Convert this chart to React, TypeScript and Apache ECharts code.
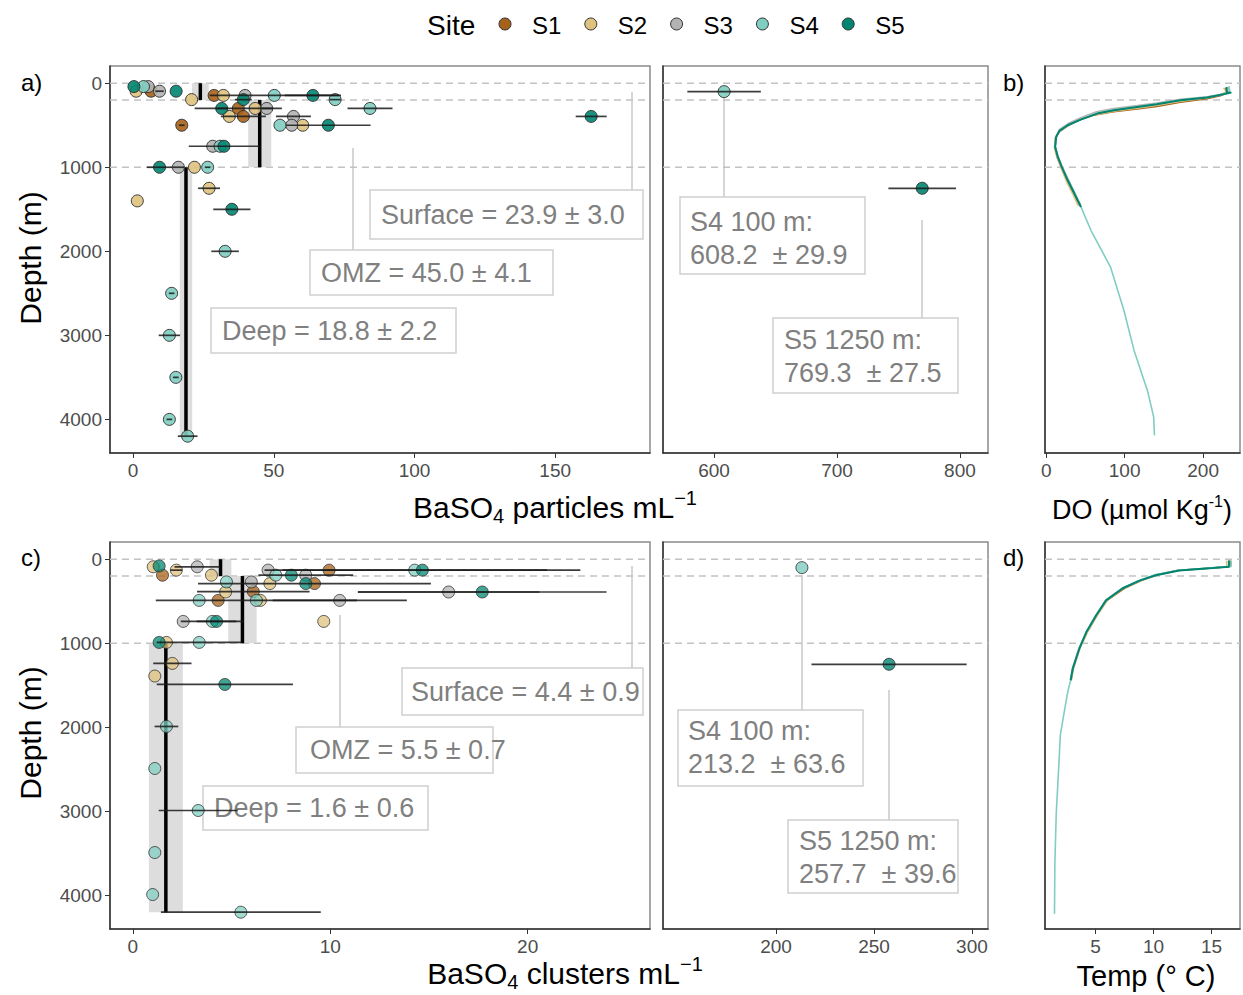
import React, { useEffect, useRef } from "react";
import * as echarts from "echarts";

const FONT = '"Liberation Sans", Arial, Helvetica, sans-serif';

const SITES = ["S1", "S2", "S3", "S4", "S5"];
const SITE_COLORS = ["#A6611A", "#DFC27D", "#B3B3B3", "#80CDC1", "#018571"];

const DEPTH_TICKS = [0, 1000, 2000, 3000, 4000];
const REF_DEPTHS = [0, 200, 1000];
const DEPTH_MIN = -205;
const DEPTH_MAX = 4400;

// ---- a) BaSO4 particles mL-1 (site number, value, depth, half error)
const partSite = [5, 3, 4, 2, 1, 3, 5, 2, 1, 2, 3, 4, 5, 4, 5, 5, 1, 2, 3, 4, 2, 1, 3, 5, 1, 4, 3, 2, 5, 3, 4, 5, 5, 3, 2, 4, 2, 2, 5, 4, 4, 4, 4, 4, 4];
const partValue = [0.3, 5.4, 3.7, 1.1, 6.4, 9.4, 15.3, 20.8, 28.8, 32.1, 39.8, 50.2, 63.9, 71.8, 39.2, 31.5, 37.4, 43.4, 47.5, 84.2, 34.2, 39.2, 57.0, 162.8, 17.3, 52.2, 56.4, 60.3, 69.4, 28.3, 30.9, 32.3, 9.4, 16.1, 21.8, 26.5, 27.0, 1.5, 35.1, 32.7, 13.7, 12.9, 15.2, 12.9, 19.4];
const partDepth = [40, 40, 40, 95, 95, 95, 95, 195, 145, 145, 145, 145, 145, 195, 195, 300, 300, 300, 300, 300, 395, 395, 395, 395, 500, 500, 500, 500, 500, 750, 750, 750, 1000, 1000, 1000, 1000, 1250, 1400, 1500, 2000, 2500, 3000, 3500, 4000, 4200];
const partErr = [0, 0, 0, 0, 0, 1.5, 0, 0, 0, 0, 0, 23, 10, 2, 3, 2, 15.5, 0, 2, 8, 0, 8, 6.2, 5.5, 1, 0, 0, 0, 15, 0, 0, 12.5, 4.5, 2, 0, 1, 3.9, 0, 6.6, 4.9, 1, 3.8, 1, 1, 3.5];

// a) broken-axis panel: high values
const partHighSite = [4, 5];
const partHighValue = [608.2, 769.3];
const partHighDepth = [100, 1250];
const partHighErr = [29.9, 27.5];

// a) layer means
const partMean = [23.9, 45.0, 18.8];
const partMeanHalf = [3.0, 4.1, 2.2];
const layerTop = [0, 200, 1000];
const layerBottom = [200, 1000, 4200];

// ---- c) BaSO4 clusters mL-1
const clusSite = [2, 5, 1, 2, 3, 2, 3, 4, 5, 4, 5, 3, 1, 4, 3, 2, 5, 1, 2, 1, 3, 5, 4, 1, 4, 2, 3, 3, 4, 5, 2, 5, 2, 4, 2, 2, 5, 4, 4, 4, 4, 4, 4];
const clusValue = [1.03, 1.33, 1.5, 2.2, 3.26, 3.98, 6.85, 14.28, 14.67, 7.24, 8.03, 8.76, 9.94, 4.74, 6.0, 6.94, 8.76, 9.2, 4.7, 6.1, 16.0, 17.7, 3.36, 4.32, 6.26, 6.46, 10.48, 2.55, 4.03, 4.24, 9.67, 1.33, 1.7, 3.36, 2.0, 1.11, 4.66, 1.7, 1.11, 3.31, 1.11, 1.0, 5.47];
const clusDepth = [90, 80, 190, 130, 90, 190, 130, 130, 130, 190, 190, 190, 130, 270, 270, 290, 290, 290, 390, 385, 390, 390, 490, 490, 490, 490, 490, 740, 740, 740, 740, 990, 990, 990, 1240, 1390, 1490, 1990, 2490, 2990, 3490, 3990, 4200];
const clusErr = [0, 0, 0, 0.3, 1.15, 0, 0, 6.7, 8.0, 0, 0, 2.4, 0, 0, 0, 0, 0, 5.9, 0, 2.85, 4.6, 6.3, 0, 0, 5.1, 0, 3.4, 0, 1.6, 1.0, 0, 0, 0, 2.15, 0.97, 0, 3.45, 0.6, 0, 2.0, 0, 0, 4.05];

const clusHighSite = [4, 5];
const clusHighValue = [213.2, 257.7];
const clusHighDepth = [100, 1250];
const clusHighErr = [0, 39.6];

const clusMean = [4.44, 5.55, 1.67];
const clusMeanHalf = [0.55, 0.72, 0.86];

// ---- b) dissolved oxygen profiles (µmol/kg)
const doS1Depth = [60, 110, 150, 185, 225, 275, 305, 340, 380, 440, 510, 575, 645, 760, 880, 1000, 1160, 1310, 1440];
const doS1 = [228, 232, 222, 205, 171, 141, 116, 86, 60, 40, 27, 17, 12, 11, 14, 19.5, 27, 35, 42];
const doS2Depth = [55, 105, 140, 175, 215, 262, 295, 330, 375, 440, 510, 580, 650, 770, 890, 1010, 1170, 1320, 1460];
const doS2 = [226, 230, 220, 204, 172, 142, 118, 88, 62, 41, 26, 16, 11.5, 10.5, 14, 19, 26, 34, 41];
const doS3Depth = [50, 105, 135, 160, 190, 235, 265, 300, 340, 410, 480, 550, 625, 745, 865, 985, 1140, 1300, 1450];
const doS3 = [232, 234, 222, 205, 171, 141, 116, 86, 64, 44, 28, 17, 13, 11.5, 15, 20, 28, 36, 44];
const doS4Depth = [35, 105, 140, 168, 198, 245, 276, 315, 355, 428, 495, 562, 635, 755, 875, 995, 1150, 1310, 1472, 1750, 2187, 2702, 3179, 3655, 3972, 4190];
const doS4 = [233, 234, 222, 206, 172, 142, 117, 87, 66, 45, 28, 17.5, 13, 11.5, 15, 20, 28, 36.5, 44.3, 57, 82, 99, 112, 129, 137, 138];
const doS5Depth = [45, 110, 112, 171, 202, 250, 282, 321, 361, 433, 500, 567, 639, 758, 877, 996, 1155, 1313, 1472];
const doS5 = [230, 230, 236, 205, 171, 141, 116, 86.5, 65, 44, 27.4, 16.9, 12.7, 11.4, 14.8, 19.8, 27.4, 35.9, 44.3];

// ---- d) temperature profiles (°C)
const tDepthShort = [15, 90, 105, 135, 190, 255, 345, 490, 670, 870, 1065, 1300, 1440];
const tS1 = [16.6, 16.6, 15.0, 12.0, 10.1, 8.9, 7.5, 6.0, 5.1, 4.25, 3.6, 3.05, 2.9];
const tS2 = [16.3, 16.3, 15.0, 12.1, 10.3, 8.9, 7.4, 6.0, 5.15, 4.3, 3.65, 3.1, 2.9];
const tS3 = [16.5, 16.5, 15.1, 12.2, 10.2, 8.8, 7.3, 5.9, 5.0, 4.2, 3.55, 3.0, 2.85];
const tS5 = [16.5, 16.5, 15.1, 12.2, 10.2, 8.8, 7.35, 5.9, 5.05, 4.2, 3.6, 3.04, 2.85];
const tS4Depth = [15, 85, 103, 131, 183, 250, 341, 488, 667, 865, 1063, 1302, 1440, 1580, 1897, 2095, 2432, 3027, 3623, 4218];
const tS4 = [16.7, 16.7, 15.1, 12.2, 10.2, 8.8, 7.35, 5.9, 5.05, 4.2, 3.6, 3.04, 2.85, 2.6, 2.2, 1.96, 1.84, 1.61, 1.49, 1.46];

// ---- axes
const xTicks = [[0, 50, 100, 150], [600, 700, 800], [0, 100, 200], [0, 10, 20], [200, 250, 300], [5, 10, 15]];
const xMin = [-8.2, 558.5, -1.5, -1.16, 142.3, 0.64];
const xMax = [183.7, 822.8, 247, 26.2, 308.2, 17.46];

const GRID_BOXES = [
  { left: 110, top: 66, width: 540, height: 387 },
  { left: 663, top: 66, width: 325, height: 387 },
  { left: 1045, top: 66, width: 195, height: 387 },
  { left: 110, top: 542, width: 540, height: 387 },
  { left: 663, top: 542, width: 325, height: 387 },
  { left: 1045, top: 542, width: 195, height: 387 },
];

function refLineSeries(g: number) {
  return {
    type: "custom",
    xAxisIndex: g,
    yAxisIndex: g,
    z: 1,
    silent: true,
    data: REF_DEPTHS.map((d) => [xMin[g], d]),
    encode: { x: 0, y: 1 },
    renderItem: (params: any, api: any) => {
      const cs = params.coordSys;
      const p = api.coord([api.value(0), api.value(1)]);
      return {
        type: "line",
        shape: { x1: cs.x, y1: p[1], x2: cs.x + cs.width, y2: p[1] },
        style: { stroke: "#c2c2c2", lineWidth: 1.5, lineDash: [7, 5] },
      };
    },
  };
}

function meanSeries(g: number, means: number[], halves: number[]) {
  const data = means.map((m, i) => [m, layerTop[i], layerBottom[i], halves[i]]);
  return [
    {
      type: "custom",
      xAxisIndex: g,
      yAxisIndex: g,
      z: 1,
      silent: true,
      data,
      encode: { x: 0, y: [1, 2] },
      renderItem: (params: any, api: any) => {
        const m = api.value(0);
        const h = api.value(3);
        const p1 = api.coord([m - h, api.value(1)]);
        const p2 = api.coord([m + h, api.value(2)]);
        return {
          type: "rect",
          shape: { x: p1[0], y: p1[1], width: p2[0] - p1[0], height: p2[1] - p1[1] },
          style: { fill: "#d4d4d4", opacity: 0.8 },
        };
      },
    },
    {
      type: "custom",
      xAxisIndex: g,
      yAxisIndex: g,
      z: 2,
      silent: true,
      data,
      encode: { x: 0, y: [1, 2] },
      renderItem: (params: any, api: any) => {
        const m = api.value(0);
        const p1 = api.coord([m, api.value(1)]);
        const p2 = api.coord([m, api.value(2)]);
        return {
          type: "line",
          shape: { x1: p1[0], y1: p1[1], x2: p2[0], y2: p2[1] },
          style: { stroke: "#000", lineWidth: 3.5 },
        };
      },
    },
  ];
}

function pointSeries(g: number, sites: number[], vals: number[], depths: number[], opacity: number) {
  return SITES.map((name, si) => ({
    type: "scatter",
    name,
    xAxisIndex: g,
    yAxisIndex: g,
    z: 3,
    symbol: "circle",
    symbolSize: 12,
    data: vals.map((v, i) => (sites[i] === si + 1 ? [v, depths[i]] : null)).filter((d) => d !== null),
    itemStyle: { color: SITE_COLORS[si], borderColor: "#2b2b2b", borderWidth: 1, opacity },
    emphasis: { disabled: true },
  }));
}

function errSeries(g: number, vals: number[], depths: number[], errs: number[]) {
  const data = vals
    .map((v, i) => [v - errs[i], v + errs[i], depths[i], errs[i]])
    .filter((d) => d[3] > 0);
  return {
    type: "custom",
    xAxisIndex: g,
    yAxisIndex: g,
    z: 4,
    silent: true,
    data,
    encode: { x: [0, 1], y: 2 },
    renderItem: (params: any, api: any) => {
      const cs = params.coordSys;
      const lo = api.coord([api.value(0), api.value(2)]);
      const hi = api.coord([api.value(1), api.value(2)]);
      const x1 = Math.max(cs.x, lo[0]);
      const x2 = Math.min(cs.x + cs.width, hi[0]);
      return {
        type: "line",
        shape: { x1, y1: lo[1], x2, y2: lo[1] },
        style: { stroke: "#1a1a1a", lineWidth: 1.7, opacity: 0.85 },
      };
    },
  };
}

function profileSeries(g: number, si: number, xs: number[], ds: number[], width: number) {
  return {
    type: "line",
    name: SITES[si],
    xAxisIndex: g,
    yAxisIndex: g,
    z: 3,
    symbol: "none",
    showSymbol: false,
    silent: true,
    clip: true,
    data: xs.map((x, i) => [x, ds[i]]),
    lineStyle: { color: SITE_COLORS[si], width },
    itemStyle: { color: SITE_COLORS[si] },
  };
}

function textEl(text: string, x: number, y: number, size: number, color: string, extra: any = {}) {
  return {
    type: "text",
    x,
    y,
    z: 0,
    style: { text, fill: color, fontSize: size, fontFamily: FONT, align: "left", verticalAlign: "middle", ...extra },
  };
}

function boxEl(x: number, y: number, w: number, h: number) {
  return {
    type: "rect",
    z: 0,
    shape: { x, y, width: w, height: h },
    style: { fill: "#ffffff", stroke: "#cfcfcf", lineWidth: 1.5 },
  };
}

function connEl(x: number, y1: number, y2: number) {
  return {
    type: "line",
    z: 0,
    shape: { x1: x, y1, x2: x, y2 },
    style: { stroke: "#c8c8c8", lineWidth: 1.5 },
  };
}

function buildOption() {
  const grid = GRID_BOXES.map((b) => ({ ...b, show: true, borderColor: "#8a8a8a", borderWidth: 1.5, containLabel: false }));
  const xAxis = GRID_BOXES.map((_, g) => ({
    type: "value",
    gridIndex: g,
    min: xMin[g],
    max: xMax[g],
    axisLine: { show: true, onZero: false, lineStyle: { color: "#333", width: 1.5 } },
    axisTick: { show: true, length: 5, customValues: xTicks[g], lineStyle: { color: "#333", width: 1 } },
    axisLabel: {
      show: true,
      customValues: xTicks[g],
      formatter: (v: number) => String(v),
      color: "#4d4d4d",
      fontSize: 19,
      fontFamily: FONT,
      margin: 8,
    },
    splitLine: { show: false },
  }));
  const yAxis = GRID_BOXES.map((_, g) => {
    const isLeft = g === 0 || g === 3;
    return {
      type: "value",
      gridIndex: g,
      inverse: true,
      min: DEPTH_MIN,
      max: DEPTH_MAX,
      axisLine: { show: true, onZero: false, lineStyle: { color: "#333", width: 1.5 } },
      axisTick: { show: isLeft, length: 5, customValues: DEPTH_TICKS, lineStyle: { color: "#333", width: 1 } },
      axisLabel: {
        show: isLeft,
        customValues: DEPTH_TICKS,
        formatter: (v: number) => String(v),
        color: "#4d4d4d",
        fontSize: 19,
        fontFamily: FONT,
        margin: 8,
      },
      splitLine: { show: false },
    };
  });

  const series: any[] = [];
  for (let g = 0; g < 6; g++) series.push(refLineSeries(g));
  series.push(...meanSeries(0, partMean, partMeanHalf));
  series.push(...meanSeries(3, clusMean, clusMeanHalf));
  series.push(...pointSeries(0, partSite, partValue, partDepth, 0.9));
  series.push(...pointSeries(1, partHighSite, partHighValue, partHighDepth, 0.9));
  series.push(...pointSeries(3, clusSite, clusValue, clusDepth, 0.75));
  series.push(...pointSeries(4, clusHighSite, clusHighValue, clusHighDepth, 0.8));
  series.push(errSeries(0, partValue, partDepth, partErr));
  series.push(errSeries(1, partHighValue, partHighDepth, partHighErr));
  series.push(errSeries(3, clusValue, clusDepth, clusErr));
  series.push(errSeries(4, clusHighValue, clusHighDepth, clusHighErr));

  series.push(profileSeries(2, 0, doS1, doS1Depth, 1.6));
  series.push(profileSeries(2, 1, doS2, doS2Depth, 1.6));
  series.push(profileSeries(2, 2, doS3, doS3Depth, 1.6));
  series.push(profileSeries(2, 3, doS4, doS4Depth, 1.6));
  series.push(profileSeries(2, 4, doS5, doS5Depth, 2));

  series.push(profileSeries(5, 0, tS1, tDepthShort, 1.6));
  series.push(profileSeries(5, 1, tS2, tDepthShort, 1.6));
  series.push(profileSeries(5, 2, tS3, tDepthShort, 1.6));
  series.push(profileSeries(5, 3, tS4, tS4Depth, 1.6));
  series.push(profileSeries(5, 4, tS5, tDepthShort, 2));

  const GREY = "#808080";
  const annSize = 27;
  const titleRich = {
    a: { fontSize: 30, fontFamily: FONT, fill: "#000", lineHeight: 38 },
    s: { fontSize: 20, fontFamily: FONT, fill: "#000", lineHeight: 14, verticalAlign: "bottom" },
    p: { fontSize: 20, fontFamily: FONT, fill: "#000", lineHeight: 16, verticalAlign: "top" },
  };
  const graphic: any[] = [
    // legend
    textEl("Site", 427, 25, 28, "#000"),
    ...SITES.flatMap((s, i) => [
      {
        type: "circle",
        z: 0,
        shape: { cx: 505 + i * 85.8, cy: 24, r: 6 },
        style: { fill: SITE_COLORS[i], stroke: "#333", lineWidth: 1 },
      },
      textEl(s, 532 + i * 85.8, 25, 24, "#000"),
    ]),
    // panel tags
    textEl("a)", 21, 82, 24, "#000"),
    textEl("b)", 1003, 82, 24, "#000"),
    textEl("c)", 21, 557, 24, "#000"),
    textEl("d)", 1003, 557, 24, "#000"),
    // y titles
    {
      type: "text",
      x: 30,
      y: 258,
      rotation: Math.PI / 2,
      z: 0,
      style: { text: "Depth (m)", fill: "#000", fontSize: 30, fontFamily: FONT, align: "center", verticalAlign: "middle" },
    },
    {
      type: "text",
      x: 30,
      y: 733,
      rotation: Math.PI / 2,
      z: 0,
      style: { text: "Depth (m)", fill: "#000", fontSize: 30, fontFamily: FONT, align: "center", verticalAlign: "middle" },
    },
    // x titles
    {
      type: "text",
      x: 555,
      y: 507,
      z: 0,
      style: {
        text: "{a|BaSO}{s|4}{a| particles mL}{p|−1}",
        align: "center",
        verticalAlign: "middle",
        rich: titleRich,
      },
    },
    {
      type: "text",
      x: 565,
      y: 973,
      z: 0,
      style: {
        text: "{a|BaSO}{s|4}{a| clusters mL}{p|−1}",
        align: "center",
        verticalAlign: "middle",
        rich: titleRich,
      },
    },
    {
      type: "text",
      x: 1142,
      y: 510,
      z: 0,
      style: {
        text: "{a|DO (µmol Kg}{p|-1}{a|)}",
        align: "center",
        verticalAlign: "middle",
        rich: {
          a: { fontSize: 27, fontFamily: FONT, fill: "#000", lineHeight: 34 },
          p: { fontSize: 16, fontFamily: FONT, fill: "#000", lineHeight: 18, verticalAlign: "top" },
        },
      },
    },
    {
      type: "text",
      x: 1146,
      y: 976,
      z: 0,
      style: { text: "Temp (° C)", fill: "#000", fontSize: 29, fontFamily: FONT, align: "center", verticalAlign: "middle" },
    },
    // a) annotations
    connEl(632, 92, 190),
    boxEl(370, 190, 273, 49),
    textEl("Surface = 23.9 ± 3.0", 381, 215, annSize, GREY),
    connEl(353, 148, 250),
    boxEl(310, 250, 243, 45),
    textEl("OMZ = 45.0 ± 4.1", 321, 273, annSize, GREY),
    boxEl(211, 308, 245, 45),
    textEl("Deep = 18.8 ± 2.2", 222, 331, annSize, GREY),
    connEl(724, 98, 197),
    boxEl(680, 197, 185, 77),
    textEl("S4 100 m:", 690, 222, annSize, GREY),
    textEl("608.2  ± 29.9", 690, 255, annSize, GREY),
    connEl(922, 220, 318),
    boxEl(773, 318, 185, 75),
    textEl("S5 1250 m:", 784, 340, annSize, GREY),
    textEl("769.3  ± 27.5", 784, 373, annSize, GREY),
    // c) annotations
    connEl(632, 566, 668),
    boxEl(402, 668, 241, 47),
    textEl("Surface = 4.4 ± 0.9", 411, 692, annSize, GREY),
    connEl(340, 615, 727),
    boxEl(296, 727, 197, 46),
    textEl("OMZ = 5.5 ± 0.7", 310, 750, annSize, GREY),
    boxEl(203, 786, 225, 44),
    textEl("Deep = 1.6 ± 0.6", 214, 808, annSize, GREY),
    connEl(802, 575, 710),
    boxEl(678, 710, 185, 76),
    textEl("S4 100 m:", 688, 731, annSize, GREY),
    textEl("213.2  ± 63.6", 688, 764, annSize, GREY),
    connEl(889, 690, 820),
    boxEl(788, 820, 170, 73),
    textEl("S5 1250 m:", 799, 841, annSize, GREY),
    textEl("257.7  ± 39.6", 799, 874, annSize, GREY),
  ];

  return {
    animation: false,
    backgroundColor: "#ffffff",
    textStyle: { fontFamily: FONT },
    grid,
    xAxis,
    yAxis,
    series,
    graphic,
  };
}

export default function App() {
  const ref = useRef<HTMLDivElement>(null);
  useEffect(() => {
    document.body.style.margin = "0";
    const chart = echarts.init(ref.current as HTMLDivElement, null, { renderer: "svg" });
    chart.setOption(buildOption() as any);
    return () => {
      chart.dispose();
    };
  }, []);
  return <div ref={ref} style={{ width: 1243, height: 995 }} />;
}
